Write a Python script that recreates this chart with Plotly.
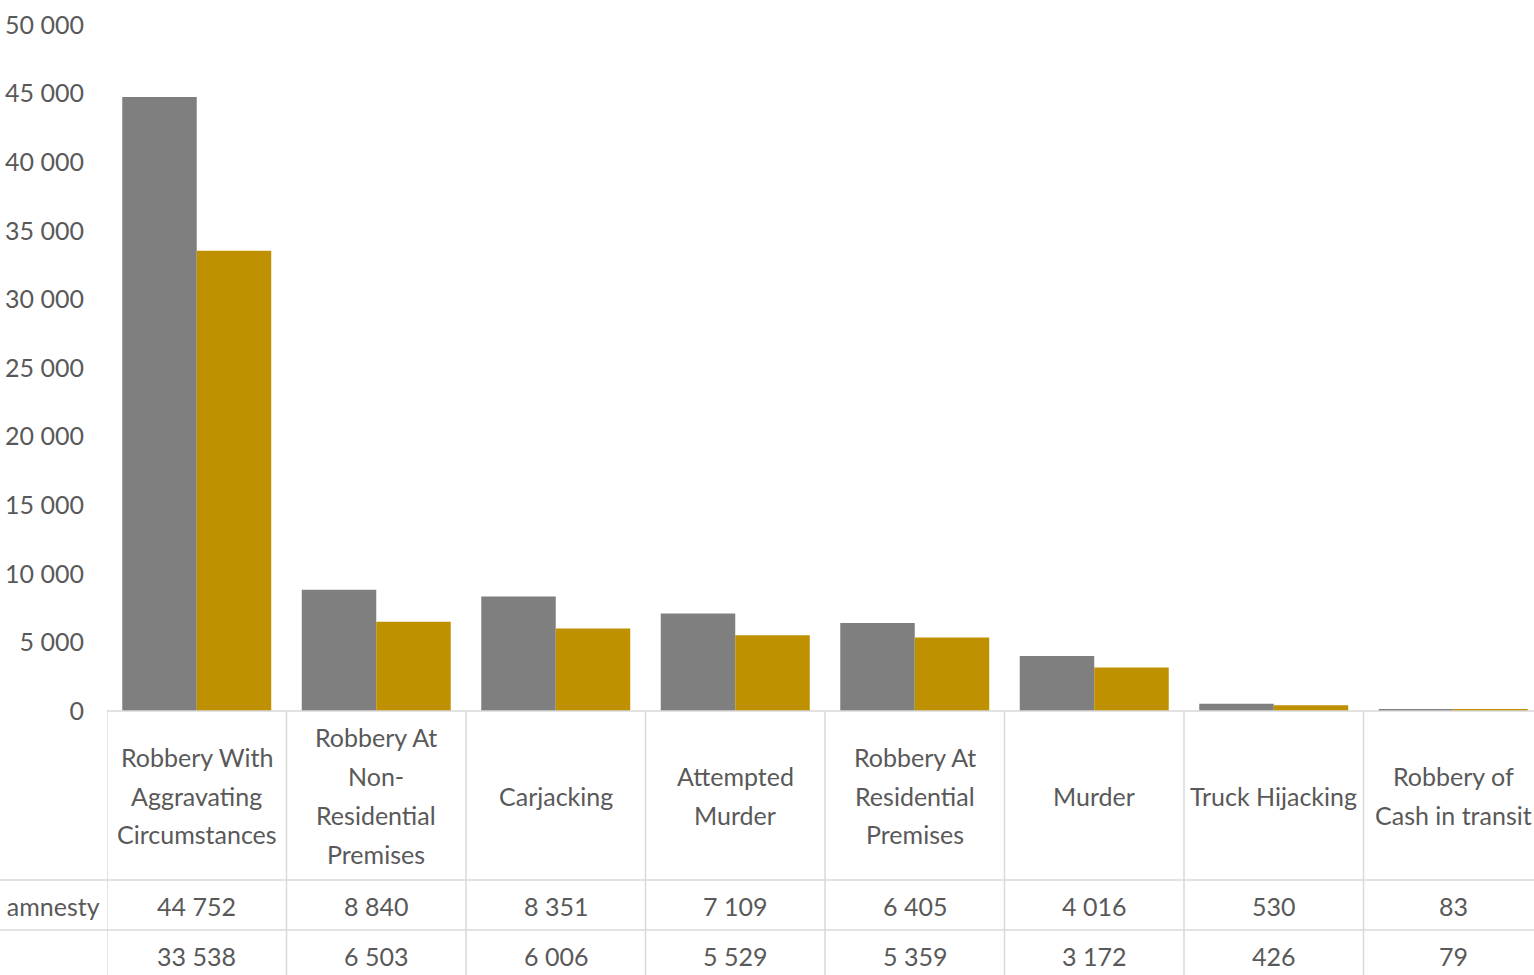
import plotly.graph_objects as go

categories = [
    "Robbery With<br>Aggravating<br>Circumstances",
    "Robbery At<br>Non-<br>Residential<br>Premises",
    "Carjacking",
    "Attempted<br>Murder",
    "Robbery At<br>Residential<br>Premises",
    "Murder",
    "Truck Hijacking",
    "Robbery of<br>Cash in transit",
]
before_amnesty = [44752, 8840, 8351, 7109, 6405, 4016, 530, 83]
after_amnesty = [33538, 6503, 6006, 5529, 5359, 3172, 426, 79]
series_names = ["Before amnesty", "After amnesty"]
row_labels = ["Before amnesty", ""]
y_ticks = [0, 5000, 10000, 15000, 20000, 25000, 30000, 35000, 40000, 45000, 50000]

W, H = 1534, 975
FONT = "Lato, Roboto, sans-serif"
FS = 25
TXT = "#595959"
LINE = "#d9d9d9"

def fmt(v):
    return f"{v:,}".replace(",", " ")

x = list(range(len(categories)))
fig = go.Figure()
fig.add_trace(go.Bar(x=x, y=before_amnesty, name=series_names[0], marker_color="#7f7f7f", marker_line_width=0))
fig.add_trace(go.Bar(x=x, y=after_amnesty, name=series_names[1], marker_color="#bf9000", marker_line_width=0))

# pixel geometry
x0_px = 107
cat_w = 179.5
y0_px = 711
ytop_px = 25
row1_px = 880
row2_px = 930
header_mid = 795.5
line_step = 39

def py(p):
    return (H - p) / H

def px(p):
    return p / W

x_range_max = -0.5 + (W - x0_px) / cat_w

shapes = []
shapes.append(dict(type="line", xref="paper", yref="paper", x0=px(x0_px), x1=1, y0=py(y0_px), y1=py(y0_px),
                   line=dict(color=LINE, width=1.5)))
for r in [row1_px, row2_px]:
    shapes.append(dict(type="line", xref="paper", yref="paper", x0=0, x1=1, y0=py(r), y1=py(r),
                       line=dict(color=LINE, width=1.5)))
for i in range(len(categories) + 1):
    shapes.append(dict(type="line", xref="x", yref="paper", x0=i - 0.5, x1=i - 0.5, y0=0, y1=py(y0_px),
                       line=dict(color=LINE, width=1.5)))

annotations = []
for i, c in enumerate(categories):
    parts = c.split("<br>")
    n = len(parts)
    for k, part in enumerate(parts):
        yy = header_mid + (k - (n - 1) / 2) * line_step
        annotations.append(dict(x=i, xref="x", y=py(yy), yref="paper", text=part, showarrow=False,
                                xanchor="center", yanchor="middle", font=dict(family=FONT, size=FS, color=TXT)))
    annotations.append(dict(x=i, xref="x", y=py(906), yref="paper", text=fmt(before_amnesty[i]),
                            showarrow=False, xanchor="center", yanchor="middle",
                            font=dict(family=FONT, size=FS, color=TXT)))
    annotations.append(dict(x=i, xref="x", y=py(956), yref="paper", text=fmt(after_amnesty[i]),
                            showarrow=False, xanchor="center", yanchor="middle",
                            font=dict(family=FONT, size=FS, color=TXT)))
annotations.append(dict(x=px(102), xref="paper", y=py(906), yref="paper", text=row_labels[0],
                        showarrow=False, xanchor="right", yanchor="middle",
                        font=dict(family=FONT, size=FS, color=TXT)))

fig.update_layout(
    width=W, height=H,
    margin=dict(l=0, r=0, t=0, b=0),
    paper_bgcolor="white", plot_bgcolor="white",
    barmode="group", bargap=0.17, bargroupgap=0,
    showlegend=False,
    separators=". ",
    xaxis=dict(domain=[px(x0_px), 1], range=[-0.5, x_range_max], showticklabels=False, showgrid=False,
               zeroline=False, showline=False, ticks="", automargin=False),
    yaxis=dict(domain=[py(y0_px), py(ytop_px)], range=[0, 50000], tickvals=y_ticks, tickformat=",d",
               showgrid=False, zeroline=False, showline=False, ticks="", automargin=False,
               tickfont=dict(family=FONT, size=FS, color=TXT), ticklabelstandoff=22),
    shapes=shapes,
    annotations=annotations,
)

fig.write_html("out.html", config={"displayModeBar": False},
               post_script="document.body.style.margin='0';document.body.style.overflow='hidden';")
